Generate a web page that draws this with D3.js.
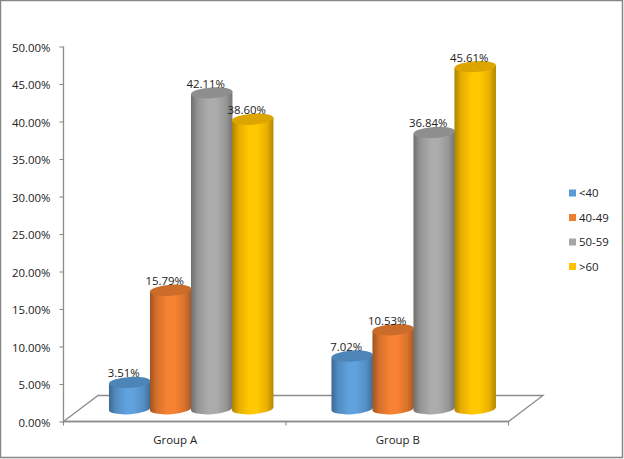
<!DOCTYPE html>
<html><head><meta charset="utf-8">
<script src="https://cdn.jsdelivr.net/npm/d3@7/dist/d3.min.js"></script>
<style>html,body{margin:0;padding:0;background:#fff}svg{display:block}text{font-family:"Open Sans",sans-serif;font-size:11.4px;fill:#222}</style>
</head><body><svg id="c" width="624" height="459"></svg>
<script>
const groups = ["Group A","Group B"];
const seriesNames = ["<40","40-49","50-59",">60"];
const seriesColors = ["#5B9BD5","#ED7D31","#A5A5A5","#FFC000"];
const valuesLt40 = [3.51,7.02];
const values4049 = [15.79,10.53];
const values5059 = [42.11,36.84];
const valuesGt60 = [38.60,45.61];
const seriesValues = [valuesLt40,values4049,values5059,valuesGt60];
const yTicks = [0,5,10,15,20,25,30,35,40,45,50];

const svg = d3.select("#c");
const axisColor = "#8c8c8c";
svg.append("rect").attr("x",.5).attr("y",.5).attr("width",622).attr("height",457).attr("fill","#fff").attr("stroke","#868686").attr("stroke-width",1.5);

const y = d3.scaleLinear().domain([0,50]).range([421.5,46.5]);
const depthX = 34.5, depthY = 26;
const frontL = 63.5, frontR = 508.5;
const xFront = d3.scaleBand().domain(groups).range([frontL,frontR]);
const xGroup = d3.scaleBand().domain(groups).range([frontL+depthX/2-0.8,frontR+depthX/2-0.8]);
const xSeries = d3.scaleBand().domain(d3.range(4)).range([0,164]);
const baseOffset = 12.8;

// floor
svg.append("path").attr("fill","none").attr("stroke",axisColor).attr("stroke-width",1.3)
  .attr("d",`M${frontL},${y(0)}L${frontL+depthX},${y(0)-depthY}L${frontR+depthX},${y(0)-depthY}L${frontR},${y(0)}Z`);

// axes
const yAxis = svg.append("g").attr("transform",`translate(${frontL},0)`)
  .call(d3.axisLeft(y).tickValues(yTicks).tickSize(4).tickPadding(9).tickFormat(d=>d.toFixed(2)+"%"));
yAxis.selectAll(".tick text").attr("y",0).attr("dy","0.42em");
const xAxis = svg.append("g").attr("transform",`translate(0,${y(0)})`)
  .call(d3.axisBottom(xFront).tickSize(0).tickPadding(14));
xAxis.selectAll(".tick").attr("transform",d=>`translate(${xFront(d)+xFront.bandwidth()/2+0.5},0)`);
const xTicks = [frontL,(frontL+frontR)/2,frontR];
xAxis.selectAll("line.sep").data(xTicks).enter().append("line").attr("class","sep")
  .attr("x1",d=>d).attr("x2",d=>d).attr("y1",0).attr("y2",4);
svg.selectAll(".domain").remove();
svg.append("line").attr("x1",frontL).attr("x2",frontL).attr("y1",y(50)).attr("y2",y(0)).attr("stroke",axisColor).attr("stroke-width",1.3);
svg.append("line").attr("x1",frontL).attr("x2",frontR).attr("y1",y(0)).attr("y2",y(0)).attr("stroke",axisColor).attr("stroke-width",1.3);
svg.selectAll(".tick line,.sep").attr("stroke",axisColor).attr("stroke-width",1.1);
svg.selectAll(".tick text").attr("fill","#222");

// gradients
const defs = svg.append("defs");
seriesColors.forEach((c,i)=>{
  const base=d3.rgb(c);
  const g=defs.append("linearGradient").attr("id","g"+i).attr("x1","0").attr("x2","1").attr("y1","0").attr("y2","0");
  const stops=[[0,base.darker(1.1)],[.16,base.darker(.3)],[.42,base.brighter(.12)],[.6,base.brighter(.12)],[.84,base.darker(.25)],[1,base.darker(1.0)]];
  stops.forEach(s=>g.append("stop").attr("offset",s[0]).attr("stop-color",s[1]));
});

const tilt=-4*Math.PI/180, ry=5.5;
seriesValues.forEach((vals,si)=>{
  const w=xSeries.bandwidth(), rx=w/2+0.3;
  const dx=rx*Math.cos(tilt), dy=rx*Math.sin(tilt);
  const gs=svg.append("g").selectAll("g").data(vals).enter().append("g");
  gs.each(function(v,gi){
    const g=d3.select(this);
    const cx=xGroup(groups[gi])+xGroup.bandwidth()/2-82+xSeries(si)+w/2;
    const by=y(0)-baseOffset, ty=y(v)-baseOffset;
    g.append("path").attr("fill",`url(#g${si})`)
      .attr("d",`M${cx-dx},${ty-dy}L${cx-dx},${by-dy}A${rx},${ry} -4 0 0 ${cx+dx},${by+dy}L${cx+dx},${ty+dy}Z`);
    g.append("ellipse").attr("rx",rx).attr("ry",ry)
      .attr("transform",`translate(${cx},${ty}) rotate(-4)`)
      .attr("fill",d3.rgb(seriesColors[si]).darker(.42));
  });
});
// data labels on top of every bar
seriesValues.forEach((vals,si)=>{
  const w=xSeries.bandwidth();
  vals.forEach((v,gi)=>{
    const cx=xGroup(groups[gi])+xGroup.bandwidth()/2-82+xSeries(si)+w/2;
    svg.append("text").attr("x",cx-6).attr("y",y(v)-baseOffset-5).attr("text-anchor","middle").text(v.toFixed(2)+"%");
  });
});

// legend
const ly=d3.scalePoint().domain(seriesNames).range([193,266.5]);
const leg=svg.append("g").selectAll("g").data(seriesNames).enter().append("g").attr("transform",d=>`translate(569,${ly(d)})`);
leg.append("rect").attr("x",0).attr("y",-3.5).attr("width",7).attr("height",7).attr("fill",(d,i)=>seriesColors[i]);
leg.append("text").attr("x",10).attr("y",4).text(d=>d);
</script></body></html>
